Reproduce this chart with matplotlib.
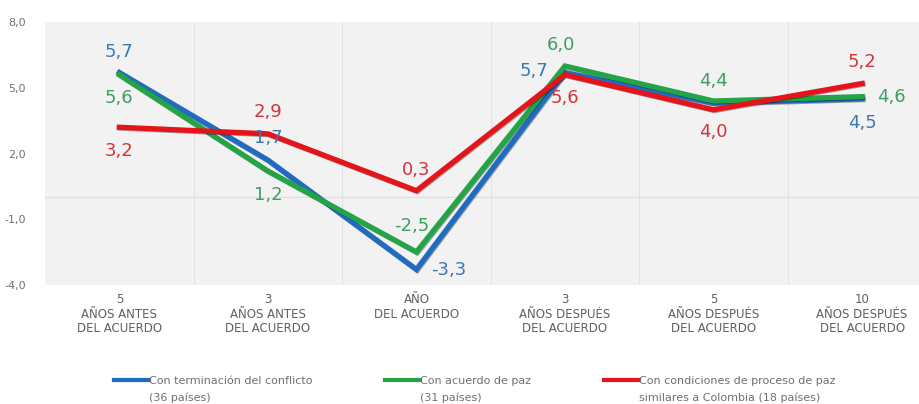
import numpy as np
import matplotlib
matplotlib.use("Agg")
import matplotlib.pyplot as plt
import matplotlib.patheffects as pe
from matplotlib.legend_handler import HandlerLine2D

# categories on the x axis
categorias = ["5\nAÑOS ANTES\nDEL ACUERDO", "3\nAÑOS ANTES\nDEL ACUERDO", "AÑO\nDEL ACUERDO",
              "3\nAÑOS DESPUÉS\nDEL ACUERDO", "5\nAÑOS DESPUÉS\nDEL ACUERDO", "10\nAÑOS DESPUÉS\nDEL ACUERDO"]

# series values (crecimiento %)
terminacion = [5.7, 1.7, -3.3, 5.7, 4.3, 4.5]
acuerdo = [5.6, 1.2, -2.5, 6.0, 4.4, 4.6]
similares = [3.2, 2.9, 0.3, 5.6, 4.0, 5.2]

nombres = ["Con terminación del conflicto\n(36 países)",
           "Con acuerdo de paz\n(31 países)",
           "Con condiciones de proceso de paz\nsimilares a Colombia (18 países)"]

# which points get a label, and where (dx in categories, dy in data units)
etiq_terminacion = [(0, 0, 0.95), (1, 0, 1.0), (2, 0.22, 0.0), (3, -0.21, 0.05), (5, 0, -1.1)]
etiq_acuerdo = [(0, 0, -1.05), (1, 0, -1.1), (2, -0.03, 1.2), (3, -0.03, 0.95), (4, 0, 0.9), (5, 0.2, 0.0)]
etiq_similares = [(0, 0, -1.1), (1, 0, 1.0), (2, 0, 0.95), (3, 0.0, -1.05), (4, 0, -1.0), (5, 0, 1.0)]

def fmt(v):
    return ("%.1f" % v).replace(".", ",")

# legend line sits next to the first text line
class HandlerArriba(HandlerLine2D):
    def create_artists(self, legend, orig_handle, xdescent, ydescent, width, height, fontsize, trans):
        arts = super().create_artists(legend, orig_handle, xdescent, ydescent, width, height, fontsize, trans)
        for a in arts:
            a.set_ydata(np.asarray(a.get_ydata()) + 7.0)
        return arts

x = np.arange(len(categorias))

fig = plt.figure(figsize=(9.2, 4.04), dpi=100)
ax = fig.add_axes([0.049, 0.295, 0.951, 0.65])
ax.set_facecolor("#f2f2f2")

series = [(terminacion, "#1f6cc0", "#3c78b4", etiq_terminacion),
          (acuerdo, "#22a447", "#3d9e62", etiq_acuerdo),
          (similares, "#e5141b", "#d2343a", etiq_similares)]

lineas = []
for (vals, col, tcol, etiq), nom in zip(series, nombres):
    l, = ax.plot(x, vals, color=col, lw=3.8, solid_joinstyle="miter", label=nom, zorder=3,
                 path_effects=[pe.SimpleLineShadow(offset=(0.6, -0.6), alpha=0.35), pe.Normal()])
    lineas.append(l)
    for i, dx, dy in etiq:
        ax.text(x[i] + dx, vals[i] + dy, fmt(vals[i]), color=tcol, fontsize=13,
                ha="center", va="center", zorder=4)

ax.set_xlim(-0.5, 5.39)
ax.set_ylim(-4, 8)
ax.set_yticks([-4, -1, 2, 5, 8])
ax.set_yticklabels([fmt(v) for v in [-4, -1, 2, 5, 8]], color="#707070", fontsize=8)
ax.set_xticks(x)
ax.set_xticklabels(categorias, color="#606060", fontsize=8.5, linespacing=1.15,
                   family=["Liberation Sans Narrow", "DejaVu Sans"])
for lab in ax.get_xticklabels():
    lab.set_multialignment("center")
ax.tick_params(length=0)
ax.tick_params(axis="x", pad=6)
ax.tick_params(axis="y", pad=14)

for xv in x[:-1] + 0.5:
    ax.axvline(xv, color="#e2e2e2", lw=0.8, zorder=1)
ax.axhline(0, color="#dedede", lw=0.8, zorder=1)
for s in ax.spines.values():
    s.set_visible(False)

leg = fig.legend(lineas, nombres, loc="upper left", bbox_to_anchor=(0.124, 0.07), ncol=3,
                 frameon=False, handlelength=3.1, handletextpad=0.0,
                 borderpad=0, borderaxespad=0, handler_map={l: HandlerArriba() for l in lineas},
                 columnspacing=6.6, prop={"family": ["Liberation Sans Narrow", "DejaVu Sans"], "size": 8})
for t in leg.get_texts():
    t.set_color("#707070")
    t.set_linespacing(1.8)
for h in leg.legend_handles:
    h.set_linewidth(3)
    h.set_path_effects([])

fig.savefig("out.png", dpi=100)
